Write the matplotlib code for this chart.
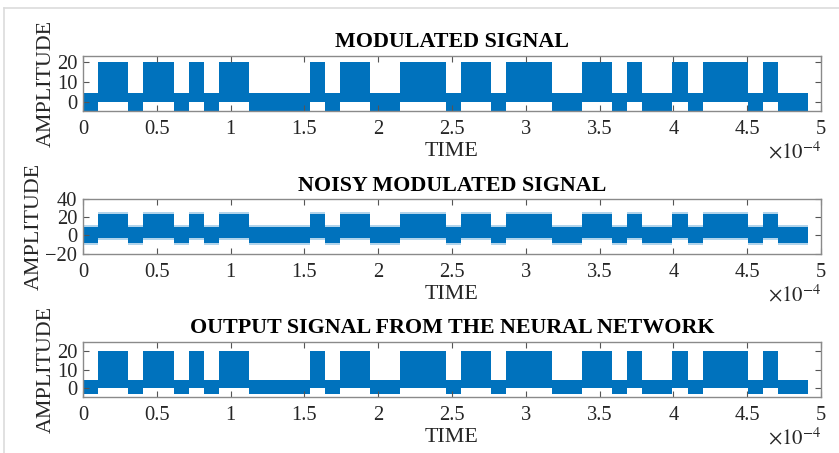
import numpy as np
import matplotlib
matplotlib.use("Agg")
import matplotlib.pyplot as plt
from matplotlib.lines import Line2D
from matplotlib.transforms import offset_copy

# ---------------- data ----------------
bits = [0, 1, 1, 0, 1, 1, 0, 1, 0, 1, 1, 0, 0, 0, 0, 1, 0, 1, 1, 0, 0, 1, 1, 1,
        0, 1, 1, 0, 1, 1, 1, 0, 0, 1, 1, 0, 1, 0, 0, 1, 0, 1, 1, 1, 0, 1, 0, 0]
bit_period = 0.1024          # in units of 1e-4 s
# band extents (min, max) of the carrier for bit 1 and bit 0
mod_high = (0.0, 20.3)
mod_low = (-4.4, 4.8)
noisy_high_core = (-2.5, 23.0)
noisy_low_core = (-8.0, 9.0)
noisy_high_peak = (-4.5, 26.0)
noisy_low_peak = (-10.5, 11.0)
out_high = (0.0, 20.0)
out_low = (-3.2, 4.3)

titles = ["MODULATED SIGNAL", "NOISY MODULATED SIGNAL",
          "OUTPUT SIGNAL FROM THE NEURAL NETWORK"]
xticks = [0, 0.5, 1, 1.5, 2, 2.5, 3, 3.5, 4, 4.5, 5]
xticklabels = ["0", "0.5", "1", "1.5", "2", "2.5", "3", "3.5", "4", "4.5", "5"]
yticks_list = [[0, 10, 20], [-20, 0, 20, 40], [0, 10, 20]]
ylims = [(-4.4, 23.3), (-20, 40), (-4.6, 24.8)]

# ---------------- drawing ----------------
BLUE = "#0072BD"
plt.rcParams["font.family"] = ["Liberation Serif", "DejaVu Serif"]
plt.rcParams["mathtext.fontset"] = "stix"

fig = plt.figure(figsize=(8.39, 4.53), dpi=100)
fig.patch.set_facecolor("white")

b = np.array(bits + [bits[-1]])
t = np.arange(len(b)) * bit_period


def band(hi, lo):
    y1 = np.where(b == 1, hi[0], lo[0])
    y2 = np.where(b == 1, hi[1], lo[1])
    return y1, y2


positions = [
    [83 / 839, (453 - 111) / 453, 738 / 839, 55.3 / 453],
    [83 / 839, (453 - 253.7) / 453, 738 / 839, 54.7 / 453],
    [83 / 839, (453 - 397) / 453, 738 / 839, 55.3 / 453],
]

for i in range(3):
    ax = fig.add_axes(positions[i])
    if i == 0:
        y1, y2 = band(mod_high, mod_low)
        ax.fill_between(t, y1, y2, step="post", color=BLUE, lw=0)
    elif i == 1:
        y1, y2 = band(noisy_high_peak, noisy_low_peak)
        ax.fill_between(t, y1, y2, step="post", color=BLUE, lw=0, alpha=0.3)
        y1, y2 = band(noisy_high_core, noisy_low_core)
        ax.fill_between(t, y1, y2, step="post", color=BLUE, lw=0)
    else:
        y1, y2 = band(out_high, out_low)
        ax.fill_between(t, y1, y2, step="post", color=BLUE, lw=0)

    ax.set_xlim(0, 5)
    ax.set_ylim(*ylims[i])
    ax.set_xticks(xticks)
    ax.set_xticklabels(xticklabels)
    ax.set_yticks(yticks_list[i])
    ax.tick_params(direction="in", top=True, right=True, length=4,
                   width=0.8, color="#555555", labelsize=14.8,
                   labelcolor="#262626")
    ax.tick_params(axis="x", pad=6.5)
    ax.tick_params(axis="y", pad=4)
    for s in ax.spines.values():
        s.set_color("#8a8a8a")
        s.set_linewidth(1.0)
    ax.set_title(titles[i], fontsize=15.8, fontweight="bold", pad=6,
                 color="black")
    ax.set_xlabel("TIME", fontsize=15.8, color="#262626", labelpad=2.5)
    ax.set_ylabel("AMPLITUDE", fontsize=15.8, color="#262626", labelpad=1)
    tr = offset_copy(ax.transAxes, fig=fig, x=0, y=-42, units="dots")
    ax.text(1.0, 0.0, r"$\times 10^{-4}$", transform=tr,
            ha="right", va="center", fontsize=15, color="#262626")

# window border
fig.add_artist(Line2D([4 / 839, 1], [1 - 8 / 453, 1 - 8 / 453],
                      transform=fig.transFigure, color="#dcdcdc", lw=1.2))
fig.add_artist(Line2D([4 / 839, 4 / 839], [0, 1 - 8 / 453],
                      transform=fig.transFigure, color="#dcdcdc", lw=1.2))

fig.savefig("out.png", dpi=100, facecolor="white")
